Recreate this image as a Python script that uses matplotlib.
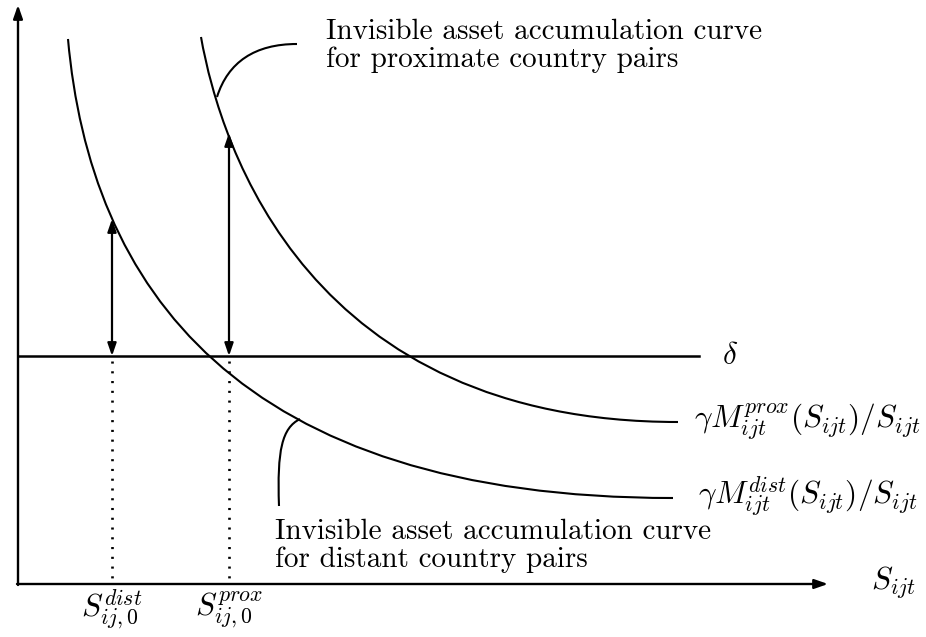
import matplotlib.pyplot as plt
from matplotlib.path import Path
from matplotlib.patches import PathPatch

plt.rcParams['mathtext.fontset'] = 'cm'
plt.rcParams['font.family'] = 'cmr10'
plt.rcParams['axes.unicode_minus'] = False

# canvas units (x to the right, y downwards)
W, H = 926, 637

# accumulation curves as cubic bezier control points
dist_curve = [(68, 39), (90, 285), (235, 498), (673, 498)]
prox_curve = [(201, 37), (221, 150), (310, 422), (678, 422)]

# depreciation rate line and steady states
delta_y = 356
delta_x = [18, 699]
s0_dist = 112
s0_prox = 229
s0_dist_top = 219
s0_prox_top = 133

# axes
origin = (18, 584)
x_end = 828
y_end = 5

# callout leaders (cubic bezier control points)
call_prox = [(297, 44), (255, 44), (228, 62), (217, 97)]
call_dist = [(300, 419), (282, 428), (277, 450), (279, 506)]

fig = plt.figure(figsize=(W / 100, H / 100), dpi=100)
ax = fig.add_axes([0, 0, 1, 1])
ax.set_xlim(0, W)
ax.set_ylim(H, 0)
ax.axis('off')

lw = 1.5
head = '-|>,head_length=0.8,head_width=0.28'
bez = [Path.MOVETO, Path.CURVE4, Path.CURVE4, Path.CURVE4]

ax.annotate('', xy=(x_end, origin[1]), xytext=(origin[0] - 1, origin[1]),
            arrowprops=dict(arrowstyle=head, lw=1.7, color='black',
                            shrinkA=0, shrinkB=0))
ax.annotate('', xy=(origin[0], y_end), xytext=(origin[0], origin[1] + 1),
            arrowprops=dict(arrowstyle=head, lw=1.7, color='black',
                            shrinkA=0, shrinkB=0))

for pts in (dist_curve, prox_curve):
    ax.add_patch(PathPatch(Path(pts, bez), fill=False, lw=lw, color='black'))
ax.plot(delta_x, [delta_y, delta_y], color='black', lw=1.8)

for xs, top in [(s0_dist, s0_dist_top), (s0_prox, s0_prox_top)]:
    ax.annotate('', xy=(xs, top), xytext=(xs, delta_y),
                arrowprops=dict(arrowstyle='<|-|>,head_length=0.75,head_width=0.26',
                                lw=1.6, color='black', shrinkA=0, shrinkB=0))
    ax.plot([xs, xs], [delta_y + 5, origin[1]], color='black', lw=1.9,
            linestyle=(0, (0.8, 2.9)))

for pts in (call_prox, call_dist):
    ax.add_patch(PathPatch(Path(pts, bez), fill=False, lw=lw, color='black'))

fs = 21
ms = 22.5
ax.text(326, 46, 'Invisible asset accumulation curve\nfor proximate country pairs',
        fontsize=fs, ha='left', va='center', linespacing=1.05)
ax.text(275, 546, 'Invisible asset accumulation curve\nfor distant country pairs',
        fontsize=fs, ha='left', va='center', linespacing=1.05)

ax.text(722, 356, r'$\delta$', fontsize=ms, ha='left', va='center')
ax.text(694, 422, r'$\gamma M^{prox}_{ijt}(S_{ijt})/S_{ijt}$', fontsize=ms,
        ha='left', va='center')
ax.text(698, 497, r'$\gamma M^{dist}_{ijt}(S_{ijt})/S_{ijt}$', fontsize=ms,
        ha='left', va='center')
ax.text(871, 583, r'$S_{ijt}$', fontsize=ms, ha='left', va='center')
ax.text(s0_dist, 610, r'$S^{dist}_{ij,0}$', fontsize=ms, ha='center', va='center')
ax.text(s0_prox, 610, r'$S^{prox}_{ij,0}$', fontsize=ms, ha='center', va='center')

fig.savefig('out.png', dpi=100, facecolor='white')
